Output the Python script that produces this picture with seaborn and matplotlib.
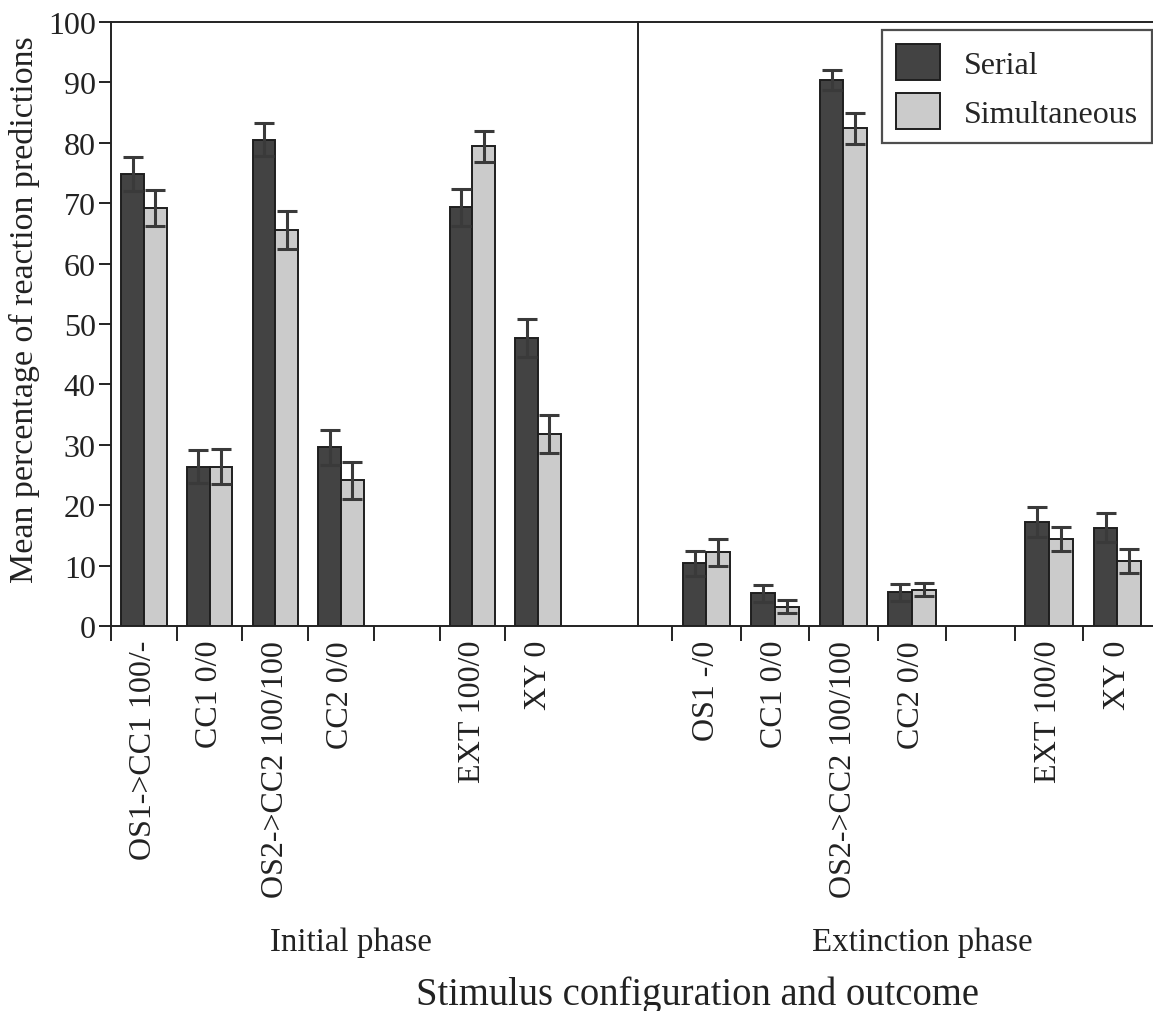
import matplotlib
matplotlib.use("Agg")
import matplotlib.pyplot as plt
import seaborn as sns
import pandas as pd
import numpy as np

# ---------------- data ----------------
series = ["Serial", "Simultaneous"]

initial_cats = ["OS1->CC1 100/-", "CC1 0/0", "OS2->CC2 100/100", "CC2 0/0", "EXT 100/0", "XY 0"]
initial_serial = [74.8, 26.4, 80.5, 29.6, 69.3, 47.7]
initial_serial_se = [2.8, 2.8, 2.7, 2.9, 3.1, 3.1]
initial_sim = [69.2, 26.4, 65.6, 24.1, 79.4, 31.8]
initial_sim_se = [3.0, 2.9, 3.1, 3.0, 2.5, 3.1]

ext_cats = ["OS1 -/0", "CC1 0/0", "OS2->CC2 100/100", "CC2 0/0", "EXT 100/0", "XY 0"]
ext_serial = [10.4, 5.4, 90.4, 5.6, 17.2, 16.3]
ext_serial_se = [2.1, 1.4, 1.7, 1.4, 2.5, 2.4]
ext_sim = [12.2, 3.2, 82.4, 6.0, 14.4, 10.8]
ext_sim_se = [2.2, 1.1, 2.6, 1.1, 2.0, 2.0]

phase_labels = ["Initial phase", "Extinction phase"]
y_ticks = [0, 10, 20, 30, 40, 50, 60, 70, 80, 90, 100]
y_label = "Mean percentage of reaction predictions"
x_label = "Stimulus configuration and outcome"

# ---------------- style ----------------
sns.set_theme(style="white")
plt.rcParams["font.family"] = ["Liberation Serif", "DejaVu Serif"]
plt.rcParams["axes.linewidth"] = 1.4

DARK = "#434343"
LIGHT = "#cbcbcb"
EDGE = "#1e1e1e"
TXT = "#222222"
palette = {"Serial": DARK, "Simultaneous": LIGHT}
FS = 23


def make_df(cats, s, sse, m, mse):
    rows = []
    for c, a, ae, b, be in zip(cats, s, sse, m, mse):
        rows.append({"cat": c, "series": "Serial", "val": a, "se": ae})
        rows.append({"cat": c, "series": "Simultaneous", "val": b, "se": be})
    return pd.DataFrame(rows)


df_init = make_df(initial_cats, initial_serial, initial_serial_se, initial_sim, initial_sim_se)
df_ext = make_df(ext_cats, ext_serial, ext_serial_se, ext_sim, ext_sim_se)

W, H = 1153, 1012
fig = plt.figure(figsize=(W / 100, H / 100), dpi=100)
bottom = 1 - 627 / H
top = 1 - 23 / H
ax1 = fig.add_axes([111 / W, bottom, (638 - 111) / W, top - bottom])
ax2 = fig.add_axes([638 / W, bottom, (1153 - 638) / W, top - bottom])


def draw(ax, df, cats, xlim):
    order = cats[:4] + ["  "] + cats[4:]
    sns.barplot(data=df, x="cat", y="val", hue="series", order=order,
                hue_order=series, palette=palette, width=0.69, ax=ax,
                edgecolor=EDGE, linewidth=1.4, errorbar=None, legend=(ax is ax2),
                saturation=1)
    # error bars at the bar centres
    for name, cont in zip(series, ax.containers):
        sub = df[df["series"] == name].set_index("cat")
        xs = [b.get_x() + b.get_width() / 2 for b in cont]
        hs = [b.get_height() for b in cont]
        ses = list(sub.loc[[c for c in order if c in sub.index], "se"])
        ax.errorbar(xs, hs, yerr=ses, fmt="none", ecolor="#3a3a3a",
                    elinewidth=2.2, capsize=7, capthick=2.2, zorder=5)
    n = len(order)
    centers = [i for i, c in enumerate(order) if c.strip()]
    labels = [order[i] for i in centers]
    ax.set_xticks(np.arange(-0.5, n - 0.5, 1.0))
    ax.set_xticklabels([])
    ax.set_xticks(centers, labels=labels, minor=True)
    ax.tick_params(axis="x", which="major", direction="out", length=11, width=1.4,
                   color=TXT, bottom=True)
    ax.tick_params(axis="x", which="minor", length=0, labelsize=FS, rotation=90, pad=10,
                   labelcolor=TXT)
    ax.set_xlim(*xlim)
    ax.set_ylim(0, 100)
    ax.set_xlabel("")
    ax.set_ylabel("")


draw(ax1, df_init, initial_cats, (-0.5, 7.52))
draw(ax2, df_ext, ext_cats, (-1.0, 6.52))

# y axis on the left panel only
ax1.set_yticks(y_ticks)
ax1.tick_params(axis="y", direction="out", length=9, width=1.4, left=True,
                labelsize=FS, labelcolor=TXT, color=TXT, pad=2)
ax1.set_ylabel(y_label, fontsize=24.5, color=TXT)
ax1.yaxis.set_label_coords((40 - 111) / 527, (627 - 310) / 604)
ax2.set_yticks([])

for ax in (ax1, ax2):
    for s in ax.spines.values():
        s.set_color(TXT)
        s.set_linewidth(1.4)
ax1.spines["right"].set_visible(False)
ax2.spines["right"].set_visible(False)

# legend
leg = ax2.legend(loc="upper right", bbox_to_anchor=((1152 - 638) / 515, (627 - 31) / 604),
                 borderaxespad=0, fontsize=FS,
                 frameon=True, fancybox=False, edgecolor=TXT,
                 handlelength=1.35, handleheight=1.35, borderpad=0.45,
                 labelspacing=0.4, handletextpad=0.75)
leg.get_frame().set_linewidth(1.6)
leg.set_title(None)

# phase labels and x label
fig.text(351 / W, 1 - 943 / H, phase_labels[0], ha="center", va="center",
         fontsize=23.7, color=TXT)
fig.text(922 / W, 1 - 943 / H, phase_labels[1], ha="center", va="center",
         fontsize=23.7, color=TXT)
fig.text(697 / W, 1 - 995 / H, x_label, ha="center", va="center",
         fontsize=27.8, color=TXT)

fig.savefig("out.png", dpi=100)
